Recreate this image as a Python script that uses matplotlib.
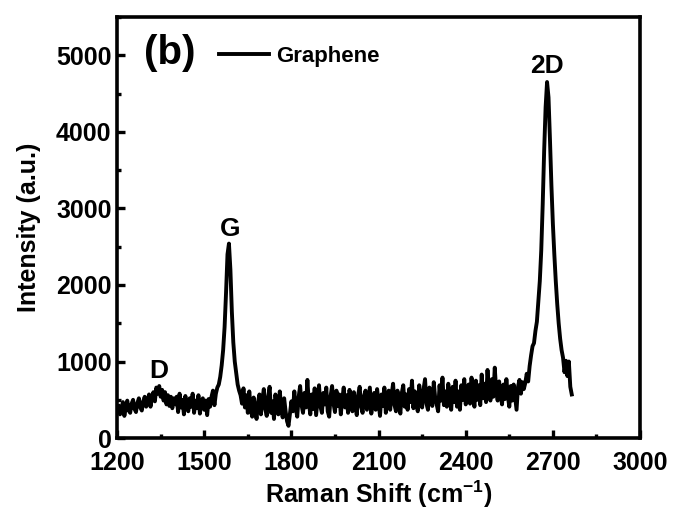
import numpy as np
import matplotlib
matplotlib.use("Agg")
import matplotlib.pyplot as plt
from matplotlib.ticker import MultipleLocator

plt.rcParams['font.family'] = ['Liberation Sans', 'DejaVu Sans']
plt.rcParams['font.weight'] = 'bold'
plt.rcParams['mathtext.fontset'] = 'custom'
plt.rcParams['mathtext.rm'] = 'Liberation Sans:bold'
plt.rcParams['mathtext.default'] = 'regular'

# Raman shift start / step (cm^-1) and intensities
shift_start = 1205
shift_step = 5
intensity = [
    # 1205-1300
    420, 310, 380, 470, 290, 400, 490, 360, 330, 450, 500, 380, 340, 460, 520, 400, 360, 480, 540, 410,
    # 1305-1400 (D band)
    480, 570, 410, 540, 600, 480, 660, 580, 680, 540, 630, 490, 600, 440, 560, 420, 540, 390, 520, 440,
    # 1405-1545
    540, 340, 580, 400, 500, 310, 550, 420, 350, 520, 410, 580, 330, 490, 390, 560, 320, 470, 520, 370,
    490, 300, 510, 410, 540, 620, 430, 580, 660,
    # 1550-1625 (G band)
    700, 800, 950, 1150, 1450, 1900, 2400, 2540, 2200, 1650, 1250, 1000, 850, 700, 620, 560,
    # 1630-1800
    450, 650, 400, 560, 330, 610, 380, 280, 530, 370, 250, 470, 570, 310, 500, 640, 380, 290, 540, 670,
    330, 480, 250, 570, 400, 310, 610, 390, 270, 520, 350, 220, 160, 320, 480,
    # 1805-2100
    350, 610, 390, 280, 540, 680, 430, 330, 590, 400, 760, 460, 310, 570, 380, 650, 300, 490, 690, 410,
    330, 590, 440, 660, 350, 280, 550, 680, 450, 340, 620, 420, 570, 310, 500, 660, 400, 560, 330, 630,
    450, 350, 600, 420, 300, 570, 670, 410, 330, 550, 620, 370, 520, 660, 320, 480, 590, 370, 640, 460,
    # 2105-2400
    290, 570, 420, 660, 330, 510, 620, 370, 570, 710, 430, 350, 620, 460, 320, 590, 690, 410, 570, 370,
    640, 470, 750, 390, 610, 440, 350, 690, 500, 400, 640, 770, 450, 370, 660, 500, 420, 730, 520, 440,
    350, 690, 490, 790, 430, 610, 410, 710, 520, 370, 670, 470, 750, 410, 610, 370, 690, 500, 770, 440,
    # 2405-2600
    550, 700, 450, 790, 550, 410, 750, 500, 690, 430, 830, 520, 710, 470, 890, 590, 490, 770, 540, 920,
    610, 490, 740, 570, 440, 700, 510, 770, 550, 410, 680, 490, 700, 530, 370, 670, 760, 580, 730, 640,
    # 2605-2765 (2D band)
    720, 840, 740, 940, 1080, 1200, 1240, 1400, 1520, 1780, 2050, 2450, 3050, 3750, 4320, 4650, 4450,
    3900, 3300, 2800, 2400, 2050, 1750, 1500, 1300, 1150, 1050, 860, 1010, 810, 1000, 670, 570,
]
raman_shift = shift_start + shift_step * np.arange(len(intensity))

x_ticks = [1200, 1500, 1800, 2100, 2400, 2700, 3000]
y_ticks = [0, 1000, 2000, 3000, 4000, 5000]
peak_names = ['D', 'G', '2D']
peak_pos = [1342, 1590, 2680]
peak_label_y = [720, 2570, 4700]

fig = plt.figure(figsize=(6.73, 5.13), dpi=100)
ax = fig.add_axes([0.174, 0.146, 0.777, 0.821])
ax.plot(raman_shift, intensity, color='black', lw=2.8, label='Graphene')

ax.set_xlim(1200, 3000)
ax.set_ylim(0, 5500)
ax.set_xticks(x_ticks)
ax.set_yticks(y_ticks)
ax.xaxis.set_minor_locator(MultipleLocator(150))
ax.yaxis.set_minor_locator(MultipleLocator(500))
ax.tick_params(which='both', direction='in', width=2.4, labelsize=18, pad=4)
ax.tick_params(which='major', length=6)
ax.tick_params(which='minor', length=3)
ax.tick_params(axis='x', pad=9)
for s in ax.spines.values():
    s.set_linewidth(2.6)
for lab in ax.get_xticklabels() + ax.get_yticklabels():
    lab.set_fontweight('bold')

ax.set_xlabel(r'Raman Shift (cm$^{-1}$)', fontsize=18, fontweight='bold', labelpad=3)
ax.set_ylabel('Intensity (a.u.)', fontsize=18, fontweight='bold', labelpad=11)

for n, px, py in zip(peak_names, peak_pos, peak_label_y):
    ax.text(px, py, n, ha='center', va='bottom', fontsize=19, fontweight='bold')

ax.text(0.052, 0.915, '(b)', transform=ax.transAxes, fontsize=29, fontweight='bold',
        va='center', ha='left')
leg = ax.legend(loc='center left', bbox_to_anchor=(0.195, 0.907), frameon=False,
                fontsize=16, handlelength=2.25, handletextpad=0.3, borderaxespad=0,
                borderpad=0)
for t in leg.get_texts():
    t.set_fontweight('bold')

fig.savefig('out.png', dpi=100)
